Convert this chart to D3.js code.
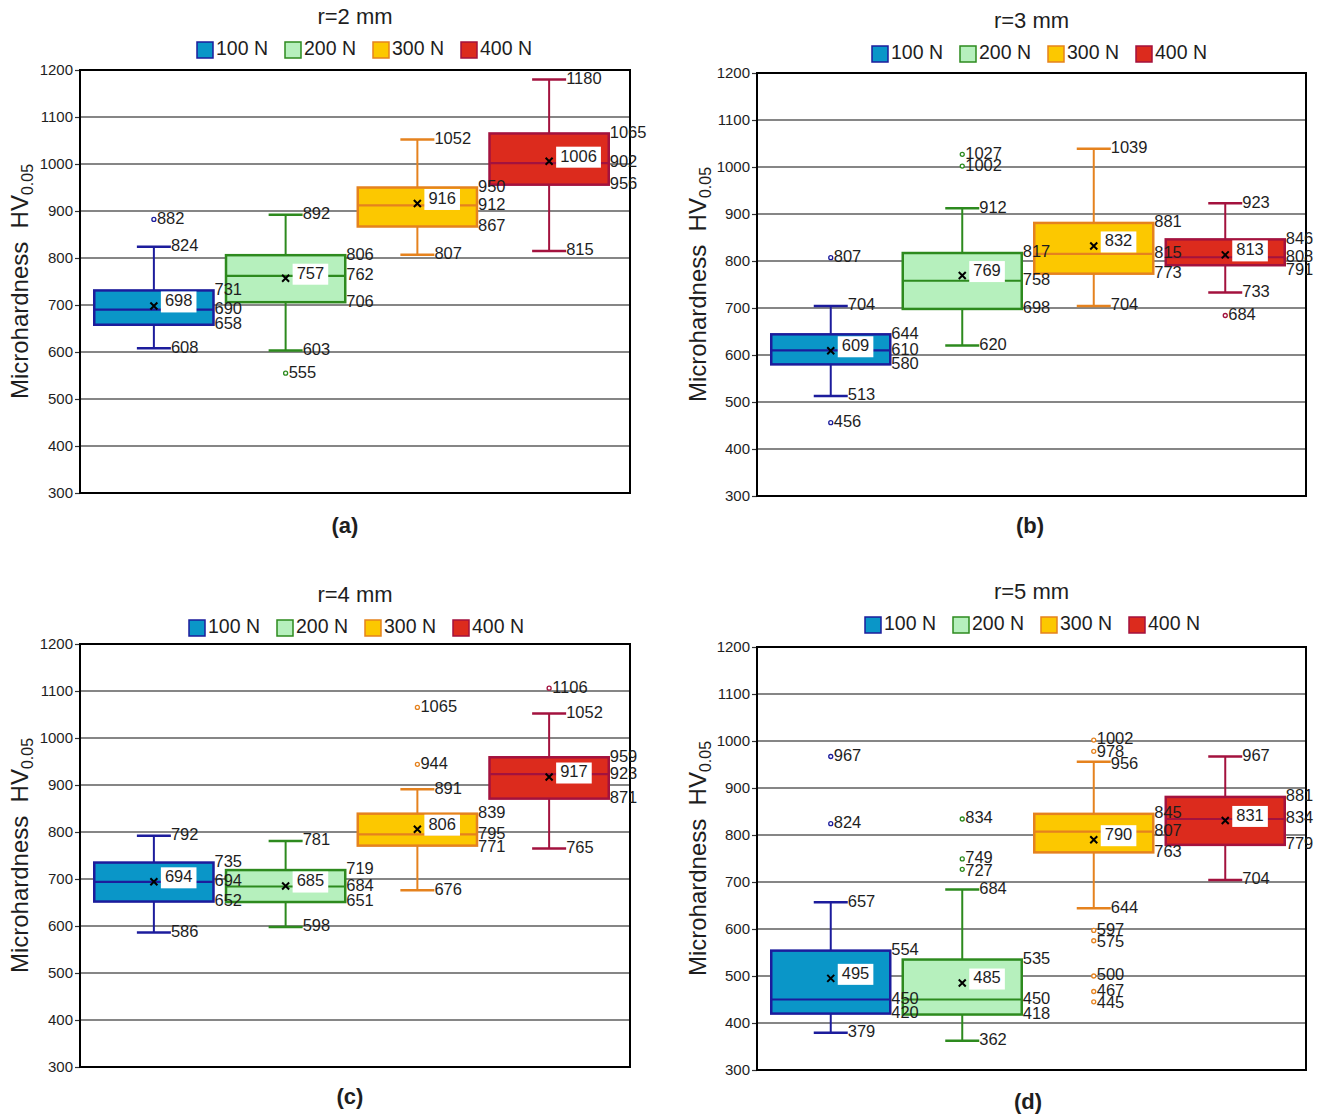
<!DOCTYPE html>
<html><head><meta charset="utf-8">
<script src="https://cdn.jsdelivr.net/npm/d3@7"></script>
<style>body{margin:0;background:#fff} text{font-family:Arial,"Liberation Sans",sans-serif;fill:#1e1e1e}</style>
</head><body><svg id="c" width="1317" height="1118"></svg>
<script>
const categories = ["100 N","200 N","300 N","400 N"];
const panelTitles = ["r=2 mm","r=3 mm","r=4 mm","r=5 mm"];
const panelCaptions = ["(a)","(b)","(c)","(d)"];
const yTicks = [300,400,500,600,700,800,900,1000,1100,1200];

// r = 2 mm
const r2Min = [608,603,807,815];
const r2Q1 = [658,706,867,956];
const r2Median = [690,762,912,1002];
const r2Q3 = [731,806,950,1065];
const r2Max = [824,892,1052,1180];
const r2Mean = [698,757,916,1006];
const r2Outliers = [[882],[555],[],[]];
// r = 3 mm
const r3Min = [513,620,704,733];
const r3Q1 = [580,698,773,791];
const r3Median = [610,758,815,808];
const r3Q3 = [644,817,881,846];
const r3Max = [704,912,1039,923];
const r3Mean = [609,769,832,813];
const r3Outliers = [[807,456],[1027,1002],[],[684]];
// r = 4 mm
const r4Min = [586,598,676,765];
const r4Q1 = [652,651,771,871];
const r4Median = [694,684,795,923];
const r4Q3 = [735,719,839,959];
const r4Max = [792,781,891,1052];
const r4Mean = [694,685,806,917];
const r4Outliers = [[],[],[1065,944],[1106]];
// r = 5 mm
const r5Min = [379,362,644,704];
const r5Q1 = [420,418,763,779];
const r5Median = [450,450,807,834];
const r5Q3 = [554,535,845,881];
const r5Max = [657,684,956,967];
const r5Mean = [495,485,790,831];
const r5Outliers = [[967,824],[834,749,727],[1002,978,597,575,500,467,445],[]];

// label text as printed in the original (panel a, 400 N median)
const medianLabelOverride = {"0-3":"902"};

const fills = ["#0a96c8","#b6f0bd","#fcc800","#dc2b1d"];
const strokes = ["#1c1c9c","#2d8a1e","#e5821e","#a3123e"];

const panels = [
  {min:r2Min,q1:r2Q1,med:r2Median,q3:r2Q3,max:r2Max,mean:r2Mean,out:r2Outliers,
   L:80,R:630,T:70,B:493,titleY:18,legX:197,legY:50,capX:345,capY:527,labX:22},
  {min:r3Min,q1:r3Q1,med:r3Median,q3:r3Q3,max:r3Max,mean:r3Mean,out:r3Outliers,
   L:757,R:1306,T:73,B:496,titleY:22,legX:872,legY:54,capX:1030,capY:527,labX:700},
  {min:r4Min,q1:r4Q1,med:r4Median,q3:r4Q3,max:r4Max,mean:r4Mean,out:r4Outliers,
   L:80,R:630,T:644,B:1067,titleY:596,legX:189,legY:628,capX:350,capY:1098,labX:22},
  {min:r5Min,q1:r5Q1,med:r5Median,q3:r5Q3,max:r5Max,mean:r5Mean,out:r5Outliers,
   L:757,R:1306,T:647,B:1070,titleY:593,legX:865,legY:625,capX:1028,capY:1103,labX:700}
];

const svg = d3.select("#c");

function spread(items, gap){
  items.sort((a,b)=>a.y-b.y);
  for(let i=1;i<items.length;i++){
    if(items[i].y - items[i-1].y < gap) items[i].y = items[i-1].y + gap;
  }
  return items;
}

panels.forEach((p,pi)=>{
  const g = svg.append("g");
  const y = d3.scaleLinear().domain([300,1200]).range([p.B,p.T]);
  const x = d3.scaleBand().domain(categories).range([p.L+8,p.R-15]).padding(0);
  const bw = x.bandwidth()*0.905;
  const cx = c => x(c)+x.bandwidth()/2;
  const cx0 = (p.L+p.R)/2;

  // title
  g.append("text").attr("x",cx0).attr("y",p.titleY).attr("text-anchor","middle")
    .attr("dominant-baseline","middle").style("font-size","22px").text(panelTitles[pi]);
  // legend
  const itemW = 88;
  categories.forEach((c,i)=>{
    const lx = p.legX + i*itemW;
    g.append("rect").attr("x",lx).attr("y",p.legY-8).attr("width",16).attr("height",16)
      .attr("fill",fills[i]).attr("stroke",strokes[i]).attr("stroke-width",1.5);
    g.append("text").attr("x",lx+19).attr("y",p.legY).attr("dominant-baseline","middle")
      .style("font-size","19.5px").text(c);
  });

  // grid
  g.append("g").selectAll("line").data(yTicks.filter(t=>t>300&&t<1200)).join("line")
    .attr("x1",p.L).attr("x2",p.R).attr("y1",d=>y(d)).attr("y2",d=>y(d))
    .attr("stroke","#5e5e5e").attr("stroke-width",1.4);

  // axis
  const ax = g.append("g").attr("transform",`translate(${p.L},0)`)
    .call(d3.axisLeft(y).tickValues(yTicks).tickFormat(d3.format("d")).tickSize(5).tickPadding(2));
  ax.select(".domain").remove();
  ax.selectAll(".tick line").attr("stroke","#333").attr("stroke-width",1.2);
  ax.selectAll(".tick text").style("font-size","15px").style("font-family","Arial, 'Liberation Sans', sans-serif").attr("fill","#222");

  // border
  g.append("rect").attr("x",p.L).attr("y",p.T).attr("width",p.R-p.L).attr("height",p.B-p.T)
    .attr("fill","none").attr("stroke","#000").attr("stroke-width",2);

  // y label
  const yl = g.append("text").attr("transform",`translate(${p.labX},${(p.T+p.B)/2}) rotate(-90)`)
    .attr("text-anchor","middle").attr("dominant-baseline","middle").style("font-size","24px")
    .style("white-space","pre");
  yl.append("tspan").text("Microhardness\u00a0\u00a0HV");
  yl.append("tspan").attr("dy",7).style("font-size","16px").text("0.05");

  // caption
  g.append("text").attr("x",p.capX).attr("y",p.capY).attr("text-anchor","middle")
    .attr("dominant-baseline","middle").style("font-size","22px").style("font-weight","bold").text(panelCaptions[pi]);

  const marks = g.append("g");
  const labels = g.append("g");

  categories.forEach((c,i)=>{
    const xc = cx(c), col = strokes[i];
    const bx = xc - bw/2;
    const bg = marks.append("g");
    // whiskers
    bg.append("line").attr("x1",xc).attr("x2",xc).attr("y1",y(p.q3[i])).attr("y2",y(p.max[i]))
      .attr("stroke",col).attr("stroke-width",2);
    bg.append("line").attr("x1",xc).attr("x2",xc).attr("y1",y(p.q1[i])).attr("y2",y(p.min[i]))
      .attr("stroke",col).attr("stroke-width",2);
    [p.max[i],p.min[i]].forEach(v=>{
      bg.append("line").attr("x1",xc-17).attr("x2",xc+17).attr("y1",y(v)).attr("y2",y(v))
        .attr("stroke",col).attr("stroke-width",2.5);
    });
    // box
    bg.append("rect").attr("x",bx).attr("y",y(p.q3[i])).attr("width",bw)
      .attr("height",y(p.q1[i])-y(p.q3[i])).attr("fill",fills[i]).attr("stroke",col).attr("stroke-width",2.5);
    bg.append("line").attr("x1",bx).attr("x2",bx+bw).attr("y1",y(p.med[i])).attr("y2",y(p.med[i]))
      .attr("stroke",col).attr("stroke-width",2.2);
    // outliers
    p.out[i].forEach(v=>{
      bg.append("circle").attr("cx",xc).attr("cy",y(v)).attr("r",2)
        .attr("fill","#fff").attr("stroke",col).attr("stroke-width",1.3);
    });
    // mean marker
    const my = y(p.mean[i]);
    bg.append("path").attr("d",`M${xc-3.5},${my-3.5}L${xc+3.5},${my+3.5}M${xc-3.5},${my+3.5}L${xc+3.5},${my-3.5}`)
      .attr("stroke","#000").attr("stroke-width",2);
    const mt = String(p.mean[i]);
    const tw = mt.length*9.2;
    bg.append("rect").attr("x",xc+7).attr("y",my-4-10.5).attr("width",tw+8).attr("height",21).attr("fill","#fff");
    bg.append("text").attr("x",xc+11).attr("y",my-4).attr("dominant-baseline","middle")
      .style("font-size","16.5px").text(mt);

    // box labels (right edge)
    const medTxt = medianLabelOverride[pi+"-"+i] || String(p.med[i]);
    const boxLabs = spread([
      {y:y(p.q3[i]),t:String(p.q3[i])},
      {y:y(p.med[i]),t:medTxt},
      {y:y(p.q1[i]),t:String(p.q1[i])}
    ],13.5);
    boxLabs.forEach(l=>{
      labels.append("text").attr("x",bx+bw+1).attr("y",l.y).attr("dominant-baseline","middle")
        .style("font-size","16.5px").text(l.t);
    });
    // whisker + outlier labels
    const wl = [{y:y(p.max[i]),t:String(p.max[i]),x:xc+17},{y:y(p.min[i]),t:String(p.min[i]),x:xc+17}];
    p.out[i].forEach(v=>wl.push({y:y(v),t:String(v),x:xc+3}));
    spread(wl,12.5).forEach(l=>{
      labels.append("text").attr("x",l.x).attr("y",l.y).attr("dominant-baseline","middle")
        .style("font-size","16.5px").text(l.t);
    });
  });
});
</script></body></html>
